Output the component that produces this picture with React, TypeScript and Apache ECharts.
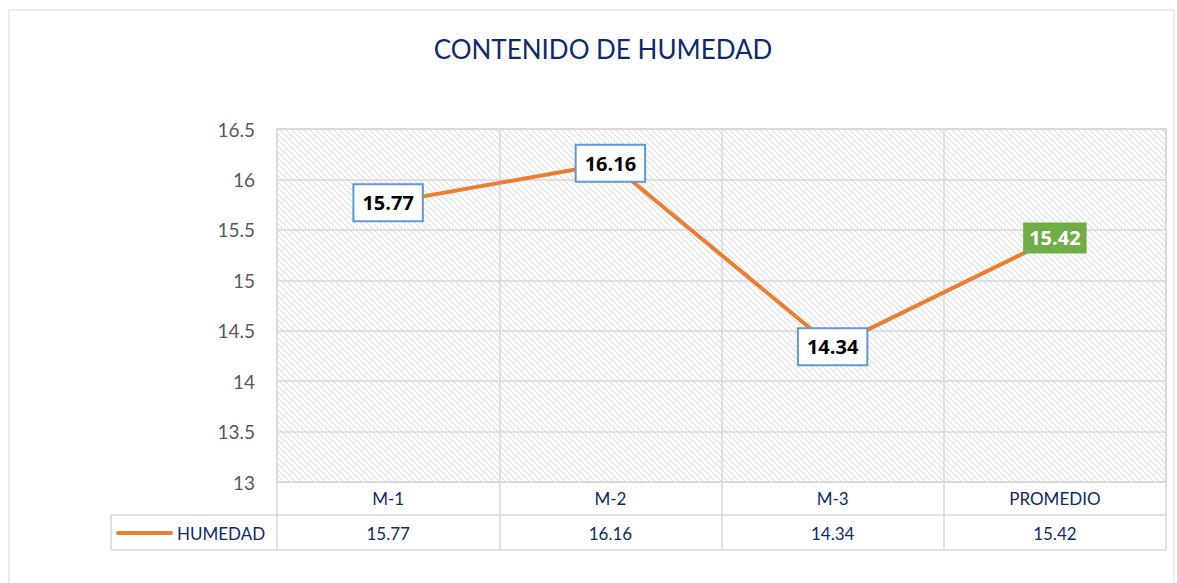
import React, { useEffect, useRef } from "react";
import * as echarts from "echarts";

const title = "CONTENIDO DE HUMEDAD";
const seriesName = "HUMEDAD";
const categories = ["M-1", "M-2", "M-3", "PROMEDIO"];
const humedad = [15.77, 16.16, 14.34, 15.42];
const yMin = 13;
const yMax = 16.5;
const yInterval = 0.5;

const NAVY = "#0E2A6B";
const GRIDC = "#D9D9D9";
const FONT = "Lato, 'Open Sans', sans-serif";

function makeHatch(): string {
  const n = 6;
  const c = document.createElement("canvas");
  c.width = n;
  c.height = n;
  const ctx = c.getContext("2d")!;
  ctx.fillStyle = "#ffffff";
  ctx.fillRect(0, 0, n, n);
  ctx.fillStyle = "#DADADA";
  for (let y = 0; y < n; y++) {
    for (let x = 0; x < n; x++) {
      const d = (((x - y) % n) + n) % n;
      if (d === 0) ctx.fillRect(x, y, 1, 1);
    }
  }
  return c.toDataURL();
}

export default function App() {
  const ref = useRef<HTMLDivElement>(null);
  useEffect(() => {
    const chart = echarts.init(ref.current!, null, { renderer: "svg" });
    const L = 277, R = 1166, T = 129, B = 482;
    const row1 = 515, row2 = 550, legL = 111;
    const cellW = (R - L) / categories.length;

    const graphics: any[] = [
      { type: "rect", shape: { x: 9, y: 10, width: 1165, height: 600 }, style: { fill: "none", stroke: "#D9D9D9", lineWidth: 1 }, silent: true },
      { type: "line", shape: { x1: L, y1: row1, x2: R, y2: row1 }, style: { stroke: GRIDC, lineWidth: 1.5 } },
      { type: "line", shape: { x1: legL, y1: row1, x2: L, y2: row1 }, style: { stroke: GRIDC, lineWidth: 1.5 } },
      { type: "line", shape: { x1: legL, y1: row2, x2: R, y2: row2 }, style: { stroke: GRIDC, lineWidth: 1.5 } },
      { type: "line", shape: { x1: legL, y1: row1, x2: legL, y2: row2 }, style: { stroke: GRIDC, lineWidth: 1.5 } },
      { type: "line", shape: { x1: 118, y1: 533, x2: 171, y2: 533 }, style: { stroke: "#ED7D31", lineWidth: 4, lineCap: "round" } },
      { type: "text", x: 177, y: 533, style: { text: seriesName, fill: NAVY, font: `17px ${FONT}`, textVerticalAlign: "middle", verticalAlign: "middle" } },
    ];
    humedad.forEach((v, i) => {
      graphics.push({
        type: "text",
        x: L + cellW * (i + 0.5),
        y: 533,
        style: { text: String(v), fill: NAVY, font: `17px ${FONT}`, align: "center", textAlign: "center", verticalAlign: "middle", textVerticalAlign: "middle" },
      });
    });

    const blueLabel = {
      show: true,
      position: "inside",
      formatter: (p: any) => Number(p.value).toFixed(2),
      color: "#000",
      fontWeight: "bold",
      fontSize: 20,
      fontFamily: "'Open Sans', Lato, sans-serif",
      backgroundColor: "#ffffff",
      borderColor: "#5B9BD5",
      borderWidth: 2,
      padding: [8, 8, 7, 8],
    };
    const greenLabel = {
      ...blueLabel,
      color: "#ffffff",
      backgroundColor: "#70AD47",
      borderColor: "#70AD47",
      borderWidth: 0,
      padding: [6, 6, 5, 6],
    };

    chart.setOption({
      animation: false,
      title: {
        text: title,
        left: 598,
        top: 31,
        textAlign: "center",
        textStyle: { color: NAVY, fontSize: 26, fontWeight: "normal", fontFamily: FONT },
      },
      grid: {
        left: L, right: 1177 - R, top: T, bottom: 583 - B,
        show: true,
        backgroundColor: { image: makeHatch(), repeat: "repeat" },
        borderColor: GRIDC,
        borderWidth: 1.5,
      },
      xAxis: {
        type: "category",
        data: categories,
        boundaryGap: true,
        axisLine: { show: true, lineStyle: { color: GRIDC, width: 1.5 } },
        axisTick: { show: true, length: row2 - B, lineStyle: { color: GRIDC, width: 1.5 } },
        axisLabel: { color: NAVY, fontSize: 17, fontFamily: FONT, margin: 8 },
        splitLine: { show: true, lineStyle: { color: GRIDC, width: 1.5 } },
      },
      yAxis: {
        type: "value",
        min: yMin,
        max: yMax,
        interval: yInterval,
        axisLine: { show: false },
        axisTick: { show: false },
        axisLabel: { color: "#595959", fontSize: 19, fontFamily: FONT, margin: 22 },
        splitLine: { show: true, lineStyle: { color: GRIDC, width: 1.5 } },
      },
      series: [
        {
          name: seriesName,
          type: "line",
          data: humedad.map((v, i) => ({
            value: v,
            label: i === humedad.length - 1 ? greenLabel : blueLabel,
          })),
          symbol: "circle",
          symbolSize: 2,
          showSymbol: true,
          lineStyle: { color: "#ED7D31", width: 4 },
          itemStyle: { color: "#ED7D31" },
          label: blueLabel,
          z: 3,
        },
      ],
      graphic: graphics,
    });
    return () => chart.dispose();
  }, []);
  return (
    <div
      ref={ref}
      style={{ position: "absolute", left: 0, top: 0, width: 1177, height: 583, background: "#fff" }}
    />
  );
}
